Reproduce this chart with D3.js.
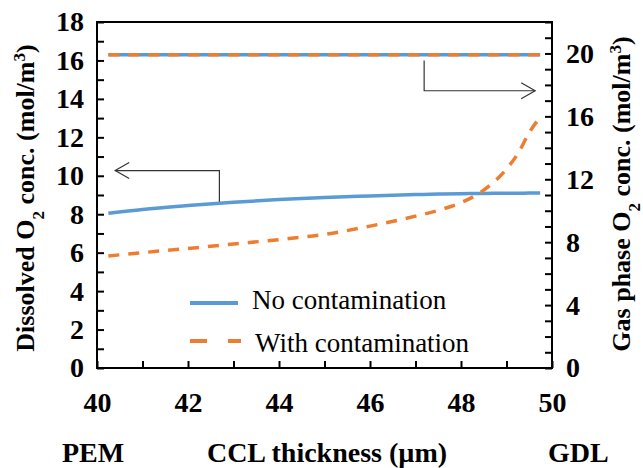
<!DOCTYPE html>
<html>
<head>
<meta charset="utf-8">
<script src="https://cdn.jsdelivr.net/npm/d3@7"></script>
</head>
<body style="margin:0; background:#fff">
<script>
//chart data
var thickness = [40.25, 41, 42, 43, 44, 45, 46, 47, 47.5, 48, 48.5, 49, 49.25, 49.5, 49.74];
var dissolvedNo = [8.05, 8.25, 8.45, 8.62, 8.76, 8.87, 8.95, 9.02, 9.05, 9.07, 9.08, 9.09, 9.09, 9.10, 9.10];
var dissolvedWith = [5.83, 6.0, 6.22, 6.45, 6.68, 6.95, 7.38, 7.9, 8.2, 8.6, 9.25, 10.35, 11.15, 12.25, 13.05];
var gasNo = [19.92, 19.92, 19.92, 19.92, 19.92, 19.92, 19.92, 19.92, 19.92, 19.92, 19.92, 19.92, 19.92, 19.92, 19.92];
var gasWith = [19.92, 19.92, 19.92, 19.92, 19.92, 19.92, 19.92, 19.92, 19.92, 19.92, 19.92, 19.92, 19.92, 19.92, 19.92];
var seriesNames = ["No contamination", "With contamination"];
var xTicks = [40, 41, 42, 43, 44, 45, 46, 47, 48, 49, 50];
var leftTicks = [0, 1, 2, 3, 4, 5, 6, 7, 8, 9, 10, 11, 12, 13, 14, 15, 16, 17, 18];
var rightTicks = [0, 1, 2, 3, 4, 5, 6, 7, 8, 9, 10, 11, 12, 13, 14, 15, 16, 17, 18, 19, 20, 21, 22];
//arrow annotations [x, y] in data units
var leftArrow = [[42.69, 8.65], [42.69, 10.27], [40.4, 10.27]];
var rightArrow = [[47.19, 19.55], [47.19, 17.63], [49.63, 17.63]];

(function(){

var width = 643, height = 468;
var left = 97, right = 552, top = 22, bottom = 368;
var blue = "#5b9bd5", orange = "#ed7d31";
var font = "'Liberation Serif', 'Times New Roman', serif";

var svg = d3.select("body").append("svg")
	.attr("width", width)
	.attr("height", height)
	.style("font-family", font);

var x = d3.scaleLinear().domain([40, 50]).range([left, right]);
var yLeft = d3.scaleLinear().domain([0, 18]).range([bottom, top]);
var yRight = d3.scaleLinear().domain([0, 22]).range([bottom, top]);

//axes, ticks pointing inward
svg.append("g")
	.attr("class", "axis")
	.attr("transform", "translate(" + left + ",0)")
	.call(d3.axisLeft(yLeft).tickValues(leftTicks).tickSizeInner(-7).tickSizeOuter(0).tickPadding(13)
		.tickFormat(function(d){ return d % 2 === 0 ? d : ""; }));

svg.append("g")
	.attr("class", "axis")
	.attr("transform", "translate(" + right + ",0)")
	.call(d3.axisRight(yRight).tickValues(rightTicks).tickSizeInner(-7).tickSizeOuter(0).tickPadding(14)
		.tickFormat(function(d){ return d % 4 === 0 ? d : ""; }));

svg.append("g")
	.attr("class", "axis")
	.attr("transform", "translate(0," + bottom + ")")
	.call(d3.axisBottom(x).tickValues(xTicks).tickSizeInner(-7).tickSizeOuter(0).tickPadding(24)
		.tickFormat(function(d){ return d % 2 === 0 ? d : ""; }));

svg.selectAll(".axis").attr("font-family", null).attr("font-size", null);
svg.selectAll(".axis .domain").remove();
svg.selectAll(".axis line").attr("stroke", "#000").attr("stroke-width", 2);
svg.selectAll(".axis text")
	.style("font-family", font)
	.style("font-size", "28px")
	.style("font-weight", "bold")
	.attr("fill", "#000");

//plot frame
svg.append("rect")
	.attr("x", left).attr("y", top)
	.attr("width", right - left).attr("height", bottom - top)
	.attr("fill", "none").attr("stroke", "#000").attr("stroke-width", 2);

//lines
function drawLine(vals, yScale, color, dashed){
	var line = d3.line()
		.x(function(d, i){ return x(thickness[i]); })
		.y(function(d){ return yScale(d); })
		.curve(d3.curveMonotoneX);
	svg.append("path")
		.datum(vals)
		.attr("d", line)
		.attr("fill", "none")
		.attr("stroke", color)
		.attr("stroke-width", 3.5)
		.attr("stroke-dasharray", dashed ? "11,9" : null);
}
drawLine(gasNo, yRight, blue, false);
drawLine(gasWith, yRight, orange, true);
drawLine(dissolvedNo, yLeft, blue, false);
drawLine(dissolvedWith, yLeft, orange, true);

//arrows
function drawArrow(pts, yScale){
	var p = pts.map(function(d){ return [x(d[0]), yScale(d[1])]; });
	svg.append("path")
		.attr("d", d3.line()(p))
		.attr("fill", "none").attr("stroke", "#333").attr("stroke-width", 1.2);
	var tip = p[p.length - 1], prev = p[p.length - 2];
	var dir = tip[0] > prev[0] ? -1 : 1;
	svg.append("path")
		.attr("d", "M" + (tip[0] + dir * 14) + "," + (tip[1] - 8) + "L" + tip[0] + "," + tip[1] + "L" + (tip[0] + dir * 14) + "," + (tip[1] + 8))
		.attr("fill", "none").attr("stroke", "#333").attr("stroke-width", 1.2);
}
drawArrow(leftArrow, yLeft);
drawArrow(rightArrow, yRight);

//legend
var legend = svg.append("g");
legend.append("line")
	.attr("x1", 190).attr("x2", 238).attr("y1", 303).attr("y2", 303)
	.attr("stroke", blue).attr("stroke-width", 4);
legend.append("line")
	.attr("x1", 190).attr("x2", 241).attr("y1", 341).attr("y2", 341)
	.attr("stroke", orange).attr("stroke-width", 4).attr("stroke-dasharray", "17,21");
legend.selectAll(".legendText")
	.data(seriesNames)
	.enter().append("text")
	.attr("class", "legendText")
	.attr("x", function(d, i){ return i === 0 ? 252 : 255; })
	.attr("y", function(d, i){ return 309 + i * 43; })
	.style("font-family", font)
	.style("font-size", "27px")
	.text(function(d){ return d; });

//axis titles
function axisTitle(label, cx, cy){
	var t = svg.append("text")
		.attr("text-anchor", "middle")
		.attr("transform", "translate(" + cx + "," + cy + ") rotate(-90)")
		.attr("dy", "0.35em")
		.style("font-family", font)
		.style("font-size", "26px")
		.style("font-weight", "bold");
	t.append("tspan").text(label + " O");
	t.append("tspan").attr("baseline-shift", "sub").style("font-size", "17px").text("2");
	t.append("tspan").text(" conc. (mol/m");
	t.append("tspan").attr("baseline-shift", "super").style("font-size", "17px").text("3");
	t.append("tspan").text(")");
}
axisTitle("Dissolved", 25, 198);
axisTitle("Gas phase", 621, 194);

function bottomText(label, px, anchor){
	svg.append("text")
		.attr("x", px).attr("y", 462)
		.attr("text-anchor", anchor)
		.style("font-family", font)
		.style("font-size", "28px")
		.style("font-weight", "bold")
		.text(label);
}
bottomText("PEM", 62, "start");
bottomText("CCL thickness (\u00b5m)", 327, "middle");
bottomText("GDL", 548, "start");

})();
</script>
</body>
</html>
